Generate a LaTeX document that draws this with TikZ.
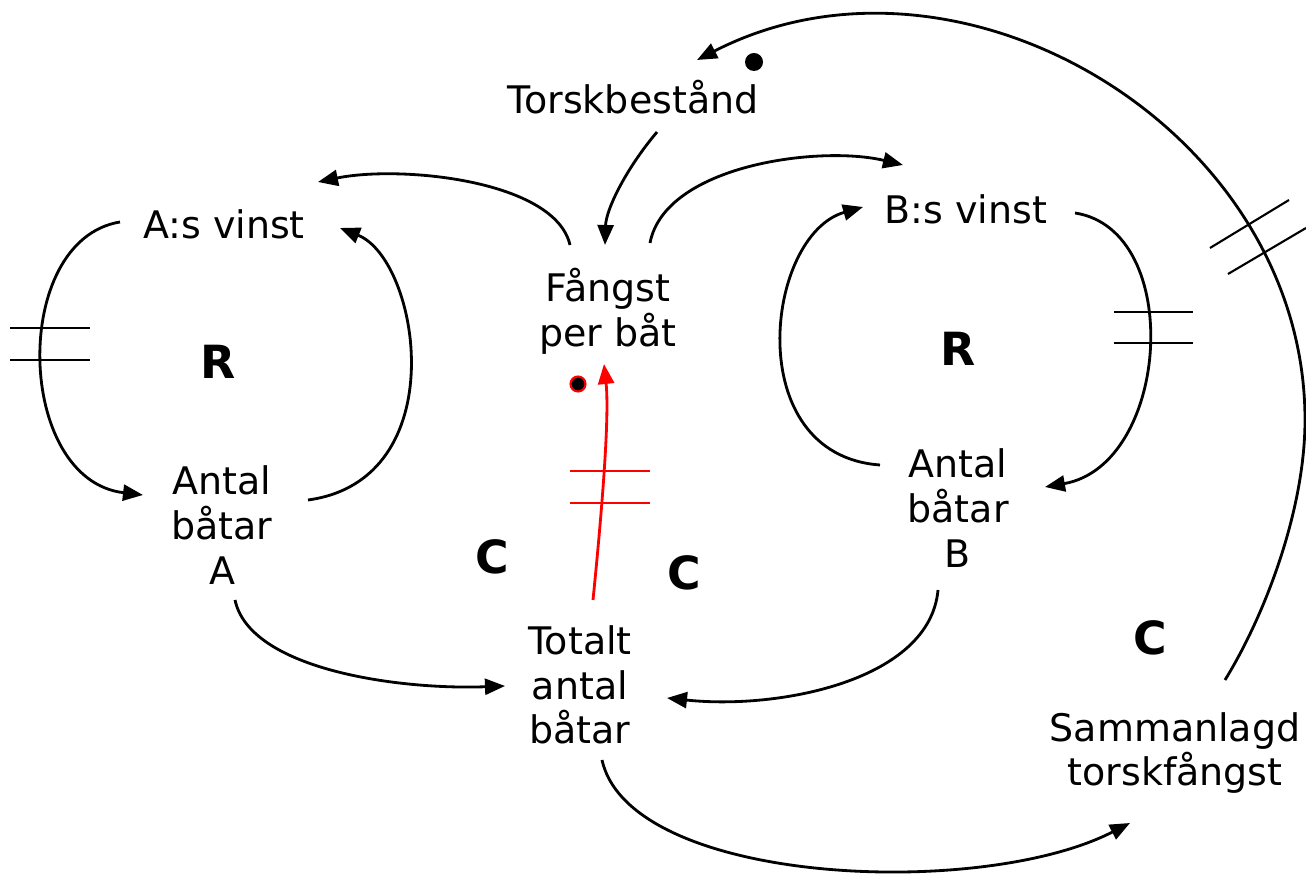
\documentclass[tikz,border=0pt]{standalone}
\usepackage{fontspec}
\setmainfont{DejaVu Sans}
\usetikzlibrary{arrows.meta,calc}

\begin{document}
\begin{tikzpicture}
[
    x=0.01cm, y=-0.01cm,
    every node/.style={align=center, inner sep=0pt, font=\fontsize{10.8}{12.7}\selectfont},
    loopmark/.style={font=\fontsize{13}{15}\selectfont\bfseries},
    link/.style={line width=0.8pt, -{Triangle[length=2mm,width=1.6mm]}},
    hash/.style={line width=0.6pt},
]
\useasboundingbox (0,0) rectangle (1306,880);

\node(tb) at (633,97){Torskbestånd};
\node(avinst) at (224,224){A:s vinst};
\node(bvinst) at (966,209){B:s vinst};
\node(fangst) at (608,311){Fångst\\per båt};
\node(antalA) at (222,525){Antal\\båtar\\A};
\node(antalB) at (958,508){Antal\\båtar\\B};
\node(totalt) at (580,685){Totalt\\antal\\båtar};
\node(samman) at (1175,753){Sammanlagd\\torskfångst};

\node(rA) at (218,362)[loopmark]{R};
\node(rB) at (958,349)[loopmark]{R};
\node(c1) at (492,557)[loopmark]{C};
\node(c2) at (684,573)[loopmark]{C};
\node(c3) at (1150,638)[loopmark]{C};

% outer loop
\draw[link] ($(samman)+(50,-73)$) .. controls (1265,615) and (1305,510) .. (1305,420)
    .. controls (1305,130) and (960,-75) .. ($(tb)+(64,-37)$);
\fill (754,62) circle (9);
\draw[hash] (1210,248) -- (1289,200);
\draw[hash] (1228,274) -- (1306,228);

\draw[link] ($(tb)+(24,35)$) .. controls (625,170) and (606,210) .. ($(fangst)+(-3,-66)$);
\draw[link] ($(fangst)+(-38,-66)$) .. controls (555,180) and (400,165) .. ($(avinst)+(94,-42)$);
\draw[link] ($(fangst)+(42,-68)$) .. controls (665,165) and (820,145) .. ($(bvinst)+(-63,-44)$);

% loop A
\draw[link] ($(avinst)+(-104,-2)$) .. controls (10,240) and (15,480) .. ($(antalA)+(-79,-30)$);
\draw[link] ($(antalA)+(86,-25)$) .. controls (455,480) and (420,260) .. ($(avinst)+(116,4)$);
\draw[hash] (10,328) -- (90,328);
\draw[hash] (10,360) -- (90,360);

% loop B
\draw[link] ($(antalB)+(-78,-43)$) .. controls (740,455) and (765,235) .. ($(bvinst)+(-103,-2)$);
\draw[link] ($(bvinst)+(109,4)$) .. controls (1185,230) and (1170,465) .. ($(antalB)+(87,-21)$);
\draw[hash] (1114,312) -- (1193,312);
\draw[hash] (1114,343) -- (1193,343);

\draw[link] ($(antalA)+(13,75)$) .. controls (250,670) and (400,690) .. ($(totalt)+(-75,1)$);
\draw[link] ($(antalB)+(-20,82)$) .. controls (930,680) and (780,710) .. ($(totalt)+(87,13)$);
\draw[link] ($(totalt)+(22,75)$) .. controls (630,885) and (980,900) .. ($(samman)+(-45,70)$);

% red link
\draw[link, red] ($(totalt)+(13,-85)$) .. controls (600,530) and (610,420) .. ($(fangst)+(-4,53)$);
\draw[hash, red] (570,471) -- (650,471);
\draw[hash, red] (570,503) -- (650,503);
\filldraw[draw=red, fill=black, line width=0.6pt] (578,384) circle (7.5);

\end{tikzpicture}
\end{document}
